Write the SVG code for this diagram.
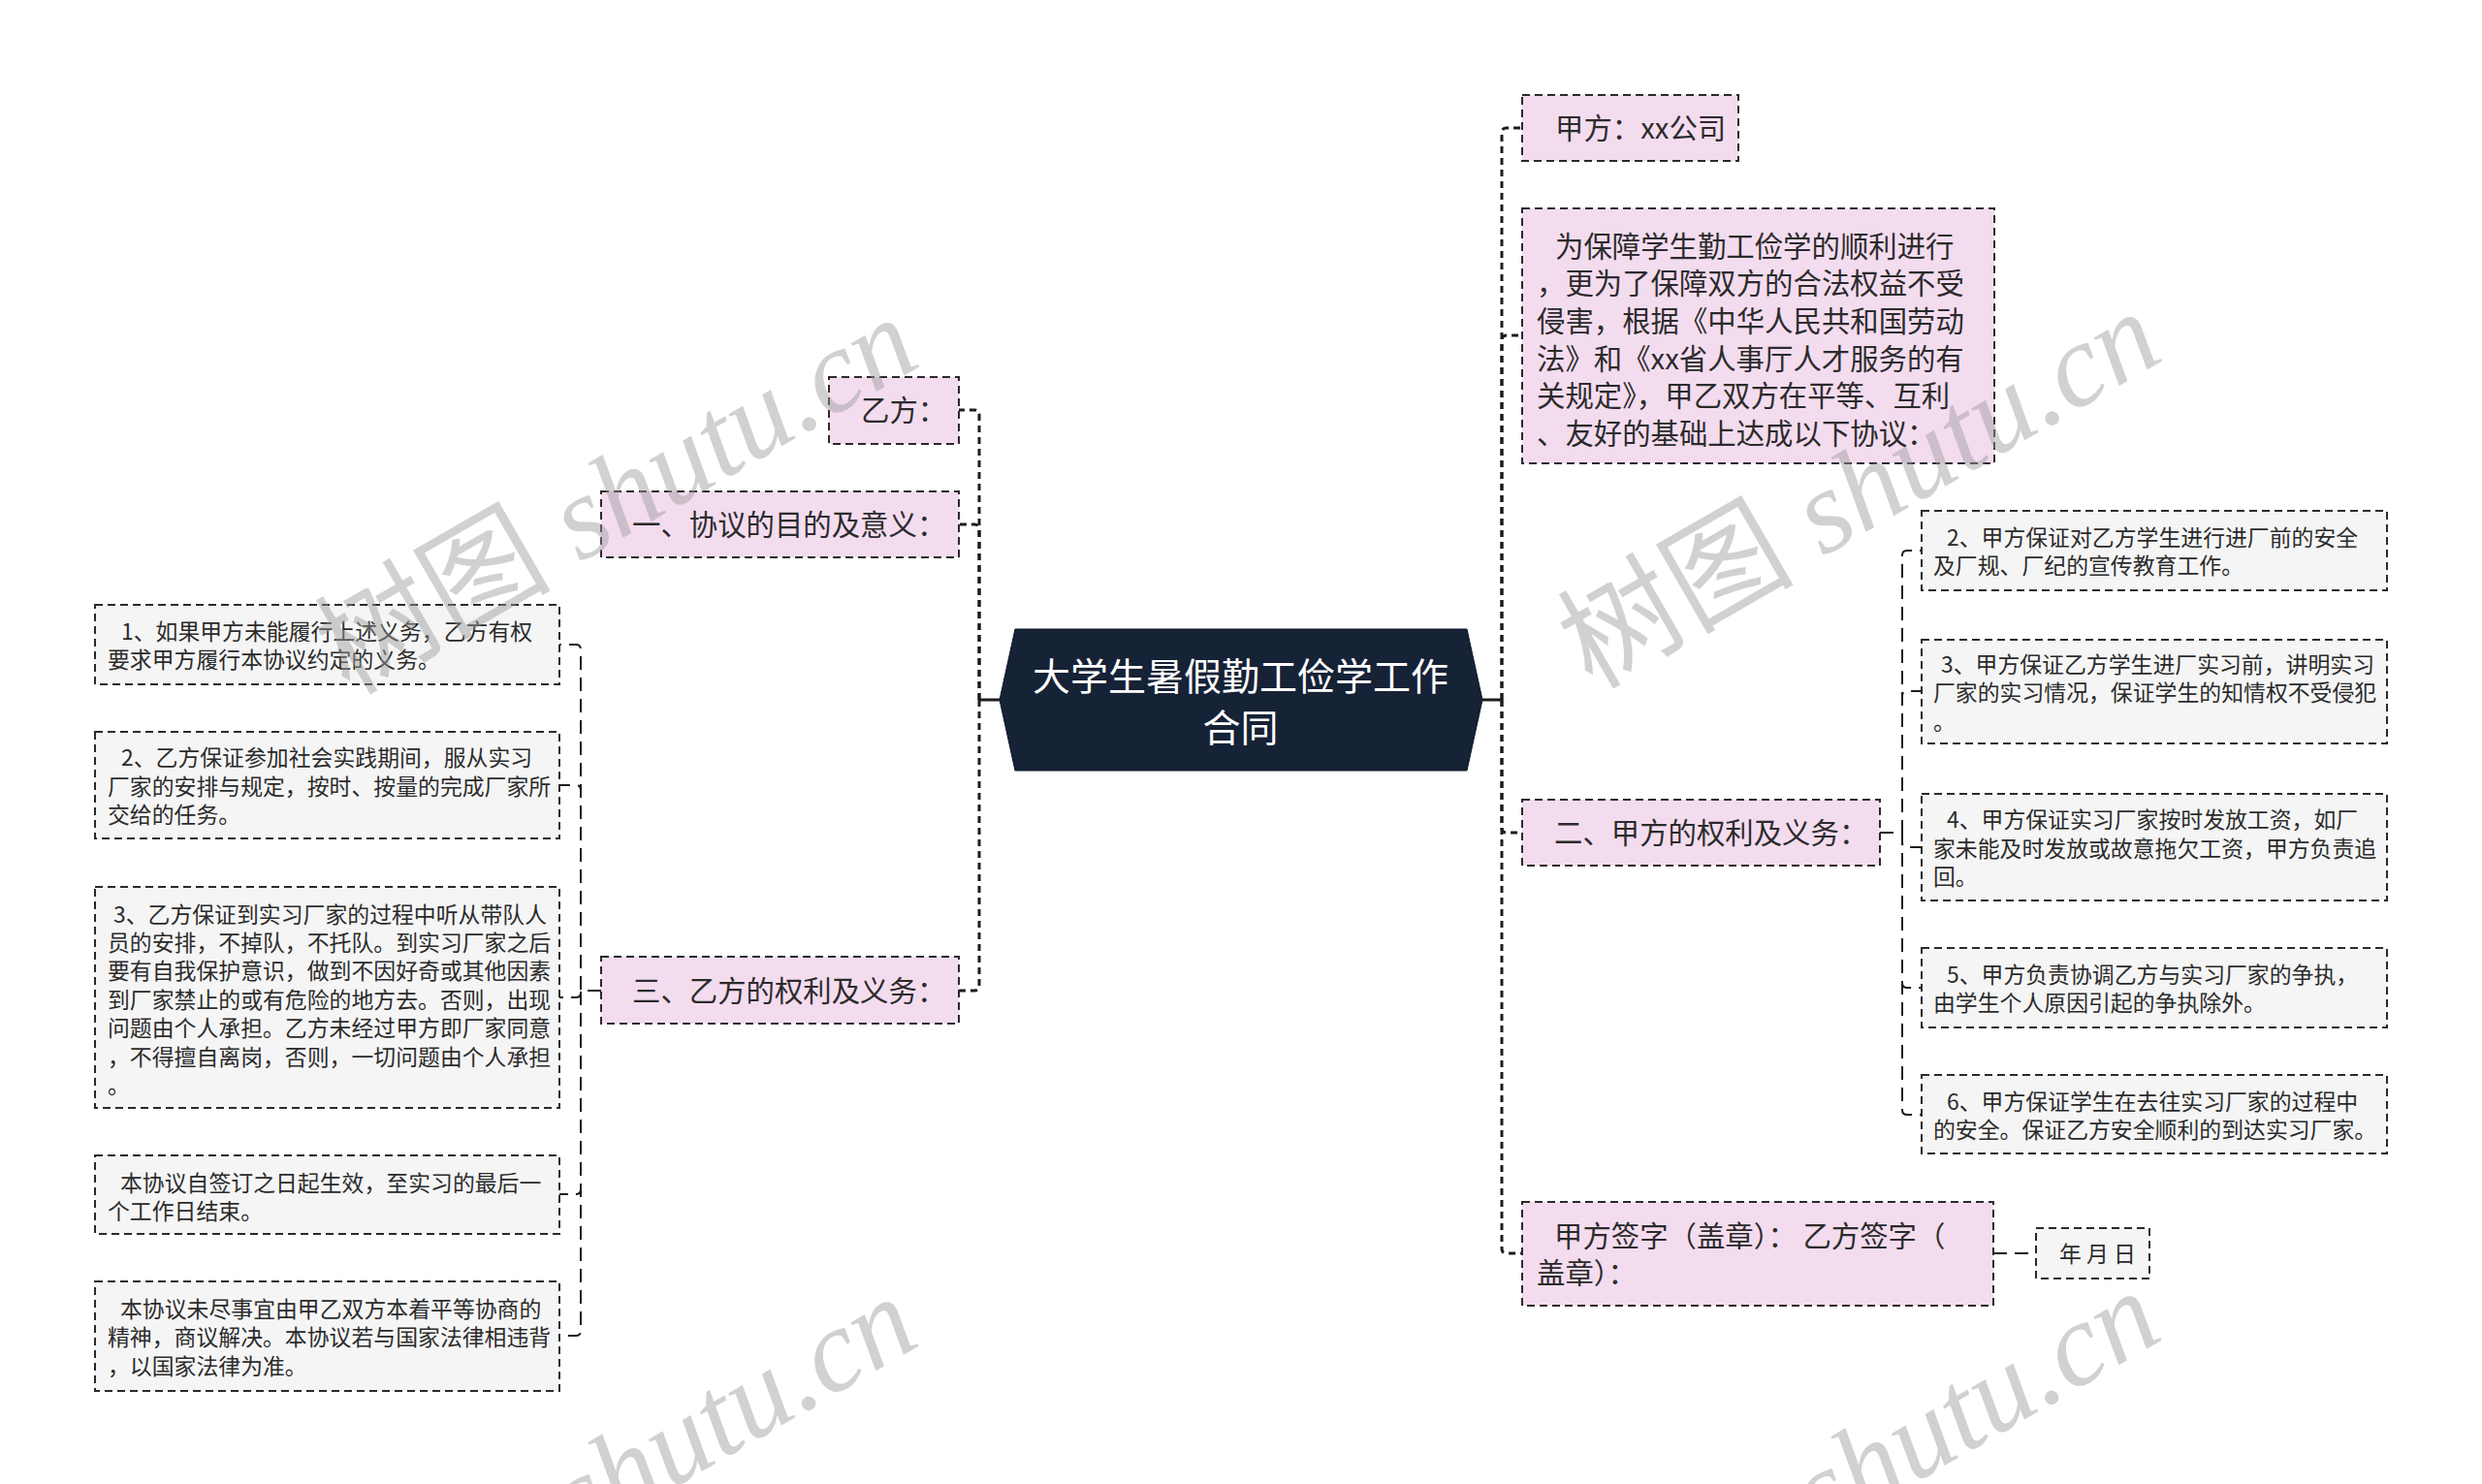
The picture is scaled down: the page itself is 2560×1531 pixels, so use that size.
<svg xmlns="http://www.w3.org/2000/svg" width="2560" height="1531" viewBox="0 0 2560 1531">
<style>
.pk{fill:#f4dcef;stroke:#2a2a2a;stroke-width:2;stroke-dasharray:8 5}
.gy{fill:#f5f5f5;stroke:#2a2a2a;stroke-width:2;stroke-dasharray:8 5}
.t2{font-family:"Noto Sans CJK SC","Microsoft YaHei",sans-serif;font-size:29.4px;fill:#2b2b2b}
.t3{font-family:"Noto Sans CJK SC","Microsoft YaHei",sans-serif;font-size:22.86px;fill:#2b2b2b}
.t1{font-family:"Noto Sans CJK SC","Microsoft YaHei",sans-serif;font-size:39px;fill:#ffffff;text-anchor:middle}
.main{fill:none;stroke:#1c1c1c;stroke-width:3;stroke-dasharray:7 5}
.solid{fill:none;stroke:#1c1c1c;stroke-width:3}
.sub{fill:none;stroke:#1c1c1c;stroke-width:2;stroke-dasharray:14 8}
.wm{fill:#9a9a9a;opacity:0.45;font-size:122px}
.wmc{font-family:"Noto Sans CJK SC",sans-serif}
.wml{font-family:"Liberation Serif",serif;font-style:italic}
</style>
<rect width="2560" height="1531" fill="#ffffff"/>
<g id="connectors">
<path class="solid" d="M1529 722 H1549"/>
<path class="main" d="M1549 722 V137 Q1549 132 1554 132 H1570"/>
<path class="main" d="M1549 722 V351 Q1549 346 1554 346 H1570"/>
<path class="main" d="M1549 722 V854 Q1549 859 1554 859 H1570"/>
<path class="main" d="M1549 722 V1288 Q1549 1293 1554 1293 H1570"/>
<path class="solid" d="M1031 722 H1010"/>
<path class="main" d="M1010 722 V428 Q1010 423 1005 423 H989"/>
<path class="main" d="M1010 722 V546 Q1010 541 1005 541 H989"/>
<path class="main" d="M1010 722 V1017 Q1010 1022 1005 1022 H989"/>
<path class="sub" d="M1939 859 H1962 V573 Q1962 568 1967 568 H1982"/>
<path class="sub" d="M1939 859 H1962 V718 Q1962 713 1967 713 H1982"/>
<path class="sub" d="M1939 859 H1962 V869 Q1962 874 1967 874 H1982"/>
<path class="sub" d="M1939 859 H1962 V1014 Q1962 1019 1967 1019 H1982"/>
<path class="sub" d="M1939 859 H1962 V1145 Q1962 1150 1967 1150 H1982"/>
<path class="sub" d="M620 1022 H599 V670 Q599 665 594 665 H577"/>
<path class="sub" d="M620 1022 H599 V815 Q599 810 594 810 H577"/>
<path class="sub" d="M620 1022 H599 V1024 Q599 1029 594 1029 H577"/>
<path class="sub" d="M620 1022 H599 V1227 Q599 1232 594 1232 H577"/>
<path class="sub" d="M620 1022 H599 V1373 Q599 1378 594 1378 H577"/>
<path class="sub" d="M2056 1293 H2100"/>
</g>
<g id="center">
<polygon points="1031,722 1047,649 1513,649 1529,722 1513,795 1047,795" fill="#162236" stroke="#0f1828" stroke-width="1"/>
<text class="t1"><tspan x="1279.5" y="712">大学生暑假勤工俭学工作</tspan><tspan x="1279.5" y="765">合同</tspan></text>
</g>
<g id="jiafang">
<rect class="pk" x="1570" y="98" width="223" height="68"/>
<text class="t2" x="1604" y="143">甲方：xx公司</text>
</g>
<g id="preamble">
<rect class="pk" x="1570" y="215" width="487" height="263"/>
<text class="t2"><tspan x="1604" y="264.5">为保障学生勤工俭学的顺利进行</tspan><tspan x="1585" y="303.2">，更为了保障双方的合法权益不受</tspan><tspan x="1585" y="341.9">侵害，根据《中华人民共和国劳动</tspan><tspan x="1585" y="380.6">法》和《xx省人事厅人才服务的有</tspan><tspan x="1585" y="419.3">关规定》，甲乙双方在平等、互利</tspan><tspan x="1585" y="458">、友好的基础上达成以下协议：</tspan></text>
</g>
<g id="jia-rights">
<rect class="pk" x="1570" y="825" width="369" height="68"/>
<text class="t2" x="1603" y="870">二、甲方的权利及义务：</text>
</g>
<g id="signature">
<rect class="pk" x="1570" y="1240" width="486" height="107"/>
<text class="t2"><tspan x="1603" y="1286">甲方签字（盖章）：  乙方签字（</tspan><tspan x="1585" y="1324">盖章）：</tspan></text>
</g>
<g id="date">
<rect class="gy" x="2100" y="1267" width="117" height="52"/>
<text class="t3" x="2124" y="1301.7">年 月 日</text>
</g>
<g id="r2">
<rect class="gy" x="1982" y="527" width="480" height="82"/>
<text class="t3"><tspan x="2008" y="563">2、甲方保证对乙方学生进行进厂前的安全</tspan><tspan x="1994" y="592.4">及厂规、厂纪的宣传教育工作。</tspan></text>
</g>
<g id="r3">
<rect class="gy" x="1982" y="660" width="480" height="107"/>
<text class="t3"><tspan x="2002" y="693.8">3、甲方保证乙方学生进厂实习前，讲明实习</tspan><tspan x="1994" y="723.2">厂家的实习情况，保证学生的知情权不受侵犯</tspan><tspan x="1994" y="752.6">。</tspan></text>
</g>
<g id="r4">
<rect class="gy" x="1982" y="819" width="480" height="110"/>
<text class="t3"><tspan x="2008" y="854.3">4、甲方保证实习厂家按时发放工资，如厂</tspan><tspan x="1994" y="883.7">家未能及时发放或故意拖欠工资，甲方负责追</tspan><tspan x="1994" y="913.1">回。</tspan></text>
</g>
<g id="r5">
<rect class="gy" x="1982" y="978" width="480" height="82"/>
<text class="t3"><tspan x="2008" y="1014">5、甲方负责协调乙方与实习厂家的争执，</tspan><tspan x="1994" y="1043.4">由学生个人原因引起的争执除外。</tspan></text>
</g>
<g id="r6">
<rect class="gy" x="1982" y="1109" width="480" height="81"/>
<text class="t3"><tspan x="2008" y="1144.5">6、甲方保证学生在去往实习厂家的过程中</tspan><tspan x="1994" y="1173.9">的安全。保证乙方安全顺利的到达实习厂家。</tspan></text>
</g>
<g id="yifang">
<rect class="pk" x="855" y="389" width="134" height="69"/>
<text class="t2" x="888" y="434">乙方：</text>
</g>
<g id="purpose">
<rect class="pk" x="620" y="507" width="369" height="68"/>
<text class="t2" x="652" y="552">一、协议的目的及意义：</text>
</g>
<g id="yi-rights">
<rect class="pk" x="620" y="987" width="369" height="69"/>
<text class="t2" x="652" y="1033">三、乙方的权利及义务：</text>
</g>
<g id="l1">
<rect class="gy" x="98" y="624" width="479" height="82"/>
<text class="t3"><tspan x="125" y="660">1、如果甲方未能履行上述义务，乙方有权</tspan><tspan x="111" y="689.4">要求甲方履行本协议约定的义务。</tspan></text>
</g>
<g id="l2">
<rect class="gy" x="98" y="755" width="479" height="110"/>
<text class="t3"><tspan x="125" y="790.3">2、乙方保证参加社会实践期间，服从实习</tspan><tspan x="111" y="819.7">厂家的安排与规定，按时、按量的完成厂家所</tspan><tspan x="111" y="849.1">交给的任务。</tspan></text>
</g>
<g id="l3">
<rect class="gy" x="98" y="915" width="479" height="228"/>
<text class="t3"><tspan x="117" y="951.5">3、乙方保证到实习厂家的过程中听从带队人</tspan><tspan x="111" y="980.9">员的安排，不掉队，不托队。到实习厂家之后</tspan><tspan x="111" y="1010.3">要有自我保护意识，做到不因好奇或其他因素</tspan><tspan x="111" y="1039.7">到厂家禁止的或有危险的地方去。否则，出现</tspan><tspan x="111" y="1069.1">问题由个人承担。乙方未经过甲方即厂家同意</tspan><tspan x="111" y="1098.5">，不得擅自离岗，否则，一切问题由个人承担</tspan><tspan x="111" y="1127.9">。</tspan></text>
</g>
<g id="l4">
<rect class="gy" x="98" y="1192" width="479" height="81"/>
<text class="t3"><tspan x="124" y="1228.5">本协议自签订之日起生效，至实习的最后一</tspan><tspan x="111" y="1257.9">个工作日结束。</tspan></text>
</g>
<g id="l5">
<rect class="gy" x="98" y="1322" width="479" height="113"/>
<text class="t3"><tspan x="124" y="1358.8">本协议未尽事宜由甲乙双方本着平等协商的</tspan><tspan x="111" y="1388.2">精神，商议解决。本协议若与国家法律相违背</tspan><tspan x="111" y="1417.6">，以国家法律为准。</tspan></text>
</g>
<g id="watermarks">
<text class="wm" transform="translate(360,718) rotate(-30)"><tspan class="wmc">树图</tspan><tspan class="wml"> shutu.cn</tspan></text>
<text class="wm" transform="translate(1642,712) rotate(-30)"><tspan class="wmc">树图</tspan><tspan class="wml"> shutu.cn</tspan></text>
<text class="wm wml" transform="translate(360,1728) rotate(-30)" x="274">shutu.cn</text>
<text class="wm wml" transform="translate(1642,1722) rotate(-30)" x="274">shutu.cn</text>
</g>
</svg>
